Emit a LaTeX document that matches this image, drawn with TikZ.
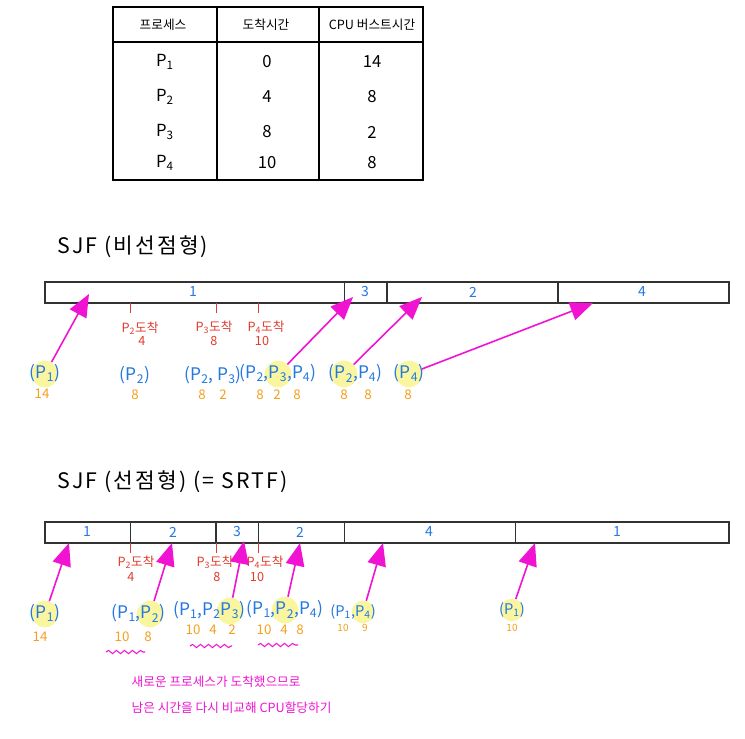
\documentclass[tikz,border=0pt]{standalone}
\usepackage{fontspec}
\setmainfont{Noto Sans CJK KR}
\usetikzlibrary{arrows.meta,decorations.pathmorphing}
\definecolor{pblue}{RGB}{35,120,225}
\definecolor{porange}{RGB}{245,160,30}
\definecolor{pred}{RGB}{225,60,45}
\definecolor{pmag}{RGB}{240,20,210}
\definecolor{phl}{RGB}{250,246,160}
\definecolor{pline}{RGB}{50,50,50}
\newcommand\proc[1]{P\textsubscript{#1}}
\begin{document}
\begin{tikzpicture}[x=0.75pt,y=-0.75pt,
  tableline/.style={draw=black,line width=1.1pt},
  thead/.style={font=\fontsize{9.5}{11}\selectfont},
  tcell/.style={font=\fontsize{12.5}{14}\selectfont},
  ttl/.style={font=\fontsize{16}{18}\selectfont\addfontfeature{LetterSpace=10},anchor=west},
  bar/.style={draw=pline,line width=0.9pt},
  barlbl/.style={text=pblue,font=\fontsize{10.5}{12}\selectfont},
  tick/.style={draw=pred,line width=0.7pt},
  arrlbl/.style={text=pred,font=\fontsize{9.5}{11}\selectfont,inner sep=0pt},
  ptext/.style={text=pblue,font=\fontsize{13}{15}\selectfont,inner sep=0pt},
  psmall/.style={text=pblue,font=\fontsize{11}{13}\selectfont,inner sep=0pt},
  hl/.style={circle,fill=phl,minimum size=20pt,inner sep=0pt,text=pblue,font=\fontsize{13}{15}\selectfont},
  hlsmall/.style={hl,minimum size=17pt,font=\fontsize{11}{13}\selectfont},
  num/.style={text=porange,font=\fontsize{10}{11}\selectfont,inner sep=0pt},
  smallnum/.style={text=porange,font=\fontsize{7.5}{8}\selectfont,inner sep=0pt},
  parrow/.style={draw=pmag,line width=1.2pt,-{Triangle[length=17pt,width=14pt]}},
  wavy/.style={draw=pmag,line width=0.8pt,decorate,decoration={snake,amplitude=1.2pt,segment length=6pt}},
  note/.style={text=pmag,font=\fontsize{9.5}{11}\selectfont,anchor=west},
]
\fill[white] (0,0) rectangle (745,738);
\useasboundingbox (0,0) rectangle (745,738);

% ---------- table ----------
\draw[tableline] (113,7) rectangle (423,180);
\draw[tableline] (113,42) -- (423,42);
\draw[tableline] (217,7) -- (217,180);
\draw[tableline] (319,7) -- (319,180);
\node[thead] (th1) at (163,25) {프로세스};
\node[thead] (th2) at (266,25) {도착시간};
\node[thead] (th3) at (372,25) {CPU 버스트시간};
\node[tcell] (r1a) at (165,62) {\proc1};
\node[tcell] (r1b) at (267,62) {0};
\node[tcell] (r1c) at (372,62) {14};
\node[tcell] (r2a) at (165,97) {\proc2};
\node[tcell] (r2b) at (267,97) {4};
\node[tcell] (r2c) at (372,97) {8};
\node[tcell] (r3a) at (165,132) {\proc3};
\node[tcell] (r3b) at (267,132) {8};
\node[tcell] (r3c) at (372,132) {2};
\node[tcell] (r4a) at (165,163) {\proc4};
\node[tcell] (r4b) at (267,163) {10};
\node[tcell] (r4c) at (372,163) {8};

% ---------- SJF non-preemptive ----------
\node[ttl] (title1) at (53,247) {SJF (비선점형)};
\draw[bar] (45,282) rectangle (729,303);
\draw[bar] (344.25,282) -- (344.25,303);
\draw[bar] (387,282) -- (387,303);
\draw[bar] (558,282) -- (558,303);
\node[barlbl] (b1s1) at (193,292) {1};
\node[barlbl] (b1s2) at (365,292) {3};
\node[barlbl] (b1s3) at (473,292) {2};
\node[barlbl] (b1s4) at (642,292) {4};
\draw[tick] (130.5,303) -- (130.5,313);
\draw[tick] (216,303) -- (216,313);
\draw[tick] (258.75,303) -- (258.75,313);
\node[arrlbl] (a1l2) at (140,328) {\proc2도착};
\node[arrlbl] (a1n2) at (142,341) {4};
\node[arrlbl] (a1l3) at (214,327) {\proc3도착};
\node[arrlbl] (a1n3) at (214,341) {8};
\node[arrlbl] (a1l4) at (266,327) {\proc4도착};
\node[arrlbl] (a1n4) at (262,341) {10};

\coordinate (t1a) at (89,294);
\coordinate (t1b) at (353,297);
\coordinate (t1c) at (422,297);
\coordinate (t1d) at (593,303);

% groups row 1
\node[hl] (g1h1) at (45,374) {\proc1};
\node[ptext,anchor=mid east] (g1l1) at ([xshift=3.5pt]g1h1.mid west) {(};
\node[ptext,anchor=mid west] (g1r1) at ([xshift=-3.5pt]g1h1.mid east) {)};
\node[num] (g1n1) at (42,394) {14};

\node[ptext] (g1g2) at (135,375) {(\proc2)};
\node[num] (g1n2) at (135,395) {8};

\node[ptext] (g1g3) at (213,375) {(\proc2, \proc3)};
\node[num] (g1n3a) at (202,395) {8};
\node[num] (g1n3b) at (223,395) {2};

\node[hl] (g1h4) at (278,374) {\proc3};
\node[ptext,anchor=mid east] (g1l4) at ([xshift=3.5pt]g1h4.mid west) {(\proc2,};
\node[ptext,anchor=mid west] (g1r4) at ([xshift=-3.5pt]g1h4.mid east) {,\proc4)};
\node[num] (g1n4a) at (260,395) {8};
\node[num] (g1n4b) at (277,395) {2};
\node[num] (g1n4c) at (297,395) {8};

\node[hl] (g1h5) at (344,374) {\proc2};
\node[ptext,anchor=mid east] (g1l5) at ([xshift=3.5pt]g1h5.mid west) {(};
\node[ptext,anchor=mid west] (g1r5) at ([xshift=-3.5pt]g1h5.mid east) {,\proc4)};
\node[num] (g1n5a) at (344,395) {8};
\node[num] (g1n5b) at (368,395) {8};

\node[hl] (g1h6) at (409,374) {\proc4};
\node[ptext,anchor=mid east] (g1l6) at ([xshift=3.5pt]g1h6.mid west) {(};
\node[ptext,anchor=mid west] (g1r6) at ([xshift=-3.5pt]g1h6.mid east) {)};
\node[num] (g1n6) at (408,395) {8};

\draw[parrow] (g1h1) -- (t1a);
\draw[parrow] (g1h4) -- (t1b);
\draw[parrow] (g1h5) -- (t1c);
\draw[parrow] (g1h6) -- (t1d);

% ---------- SJF preemptive ----------
\node[ttl] (title2) at (53,482) {SJF (선점형) (= SRTF)};
\draw[bar] (45,522) rectangle (729,543);
\draw[bar] (130.5,522) -- (130.5,543);
\draw[bar] (216,522) -- (216,543);
\draw[bar] (258.75,522) -- (258.75,543);
\draw[bar] (344.25,522) -- (344.25,543);
\draw[bar] (515.25,522) -- (515.25,543);
\node[barlbl] (b2s1) at (87,532) {1};
\node[barlbl] (b2s2) at (173,532) {2};
\node[barlbl] (b2s3) at (237,532) {3};
\node[barlbl] (b2s4) at (300,532) {2};
\node[barlbl] (b2s5) at (429,532) {4};
\node[barlbl] (b2s6) at (617,532) {1};
\draw[tick] (130.5,543) -- (130.5,553);
\draw[tick] (216,543) -- (216,553);
\draw[tick] (258.75,543) -- (258.75,553);
\node[arrlbl] (a2l2) at (136,562) {\proc2도착};
\node[arrlbl] (a2n2) at (131,577) {4};
\node[arrlbl] (a2l3) at (215,562) {\proc3도착};
\node[arrlbl] (a2n3) at (217,577) {8};
\node[arrlbl] (a2l4) at (265,562) {\proc4도착};
\node[arrlbl] (a2n4) at (257,577) {10};

\coordinate (t2a) at (69,543);
\coordinate (t2b) at (172,543);
\coordinate (t2c) at (244,541);
\coordinate (t2d) at (300,543);
\coordinate (t2e) at (383,543);
\coordinate (t2f) at (535,543);

% groups row 2
\node[hl] (g2h1) at (45,614) {\proc1};
\node[ptext,anchor=mid east] (g2l1) at ([xshift=3.5pt]g2h1.mid west) {(};
\node[ptext,anchor=mid west] (g2r1) at ([xshift=-3.5pt]g2h1.mid east) {)};
\node[num] (g2n1) at (40,637) {14};

\node[hl] (g2h2) at (150,614) {\proc2};
\node[ptext,anchor=mid east] (g2l2) at ([xshift=3.5pt]g2h2.mid west) {(\proc1,};
\node[ptext,anchor=mid west] (g2r2) at ([xshift=-3.5pt]g2h2.mid east) {)};
\node[num] (g2n2a) at (122,637) {10};
\node[num] (g2n2b) at (148,637) {8};

\node[hl] (g2h3) at (230,611) {\proc3};
\node[ptext,anchor=mid east] (g2l3) at ([xshift=3.5pt]g2h3.mid west) {(\proc1,\proc2};
\node[ptext,anchor=mid west] (g2r3) at ([xshift=-3.5pt]g2h3.mid east) {)};
\node[num] (g2n3a) at (193,630) {10};
\node[num] (g2n3b) at (213,630) {4};
\node[num] (g2n3c) at (232,630) {2};

\node[hl] (g2h4) at (285,610) {\proc2};
\node[ptext,anchor=mid east] (g2l4) at ([xshift=3.5pt]g2h4.mid west) {(\proc1,};
\node[ptext,anchor=mid west] (g2r4) at ([xshift=-3.5pt]g2h4.mid east) {,\proc4)};
\node[num] (g2n4a) at (264,630) {10};
\node[num] (g2n4b) at (284,630) {4};
\node[num] (g2n4c) at (300,630) {8};

\node[hlsmall] (g2h5) at (363,612) {\proc4};
\node[psmall,anchor=mid east] (g2l5) at ([xshift=3pt]g2h5.mid west) {(\proc1,};
\node[psmall,anchor=mid west] (g2r5) at ([xshift=-3pt]g2h5.mid east) {)};
\node[smallnum] (g2n5a) at (343,628) {10};
\node[smallnum] (g2n5b) at (365,628) {9};

\node[hlsmall] (g2h6) at (512,610) {\proc1};
\node[psmall,anchor=mid east] (g2l6) at ([xshift=3pt]g2h6.mid west) {(};
\node[psmall,anchor=mid west] (g2r6) at ([xshift=-3pt]g2h6.mid east) {)};
\node[smallnum] (g2n6) at (512,628) {10};

\draw[parrow] (g2h1) -- (t2a);
\draw[parrow] (g2h2) -- (t2b);
\draw[parrow] (g2h3) -- (t2c);
\draw[parrow] (g2h4) -- (t2d);
\draw[parrow] (g2h5) -- (t2e);
\draw[parrow] (g2h6) -- (t2f);

\draw[wavy] (106,652) -- (145,652);
\draw[wavy] (190,646) -- (232,646);
\draw[wavy] (258,645) -- (298,645);

\node[note] (note1) at (127,682) {새로운 프로세스가 도착했으므로};
\node[note] (note2) at (127,708) {남은 시간을 다시 비교해 CPU할당하기};
\end{tikzpicture}
\end{document}
